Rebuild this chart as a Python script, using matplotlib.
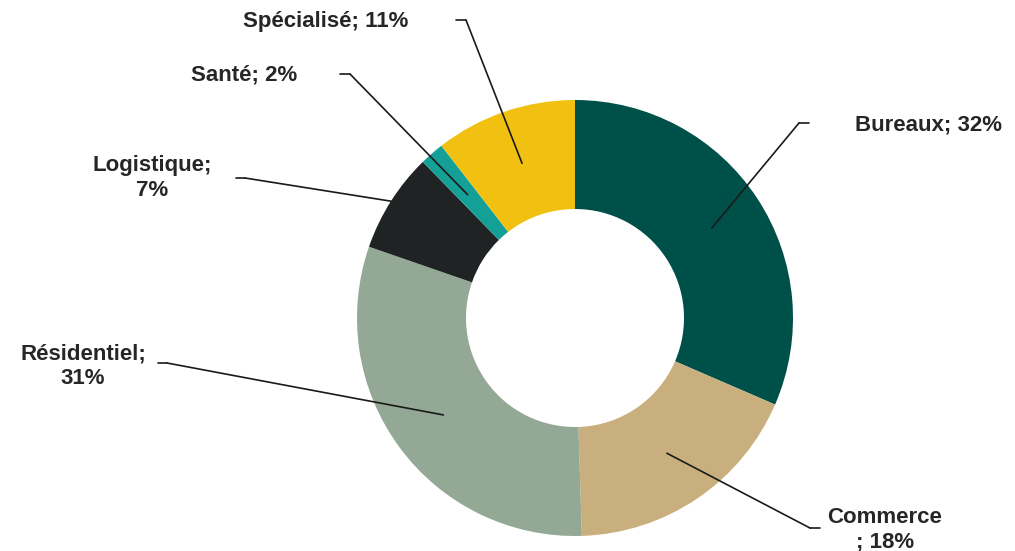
import matplotlib.pyplot as plt
import numpy as np

plt.rcParams['font.family'] = ['Liberation Sans', 'DejaVu Sans']

categories = ['Bureaux', 'Commerce', 'Résidentiel', 'Logistique', 'Santé', 'Spécialisé']
shares = [31.5, 18.0, 30.8, 7.4, 1.8, 10.5]
labels = ['Bureaux; 32%', 'Commerce\n; 18%', 'Résidentiel;\n31%', 'Logistique;\n7%', 'Santé; 2%', 'Spécialisé; 11%']
colors = ['#00504A', '#C9AF7E', '#94A896', '#1F2324', '#14A096', '#F2C010']

# label layout in image pixels (x, y from top): elbow, line end, text centre, alignment
elbows = [(799, 123), (810, 528), (167, 363), (245, 178), (350, 74), (466, 20)]
ends = [(809, 123), (820, 528), (158, 363), (236, 178), (340, 74), (456, 20)]
text_pos = [(855, 125, 'left'), (885, 530, 'center'), (83, 366, 'center'),
            (152, 178, 'center'), (244, 75, 'center'), (326, 22, 'center')]
anchor_r = [0.75, 0.75, 0.75, 1.0, 0.75, 0.75]

W, H = 1015, 551
fig = plt.figure(figsize=(W / 100, H / 100), dpi=100, facecolor='white')
cx, cy, r = 575, 318, 218
ax = fig.add_axes([(cx - r) / W, (H - cy - r) / H, 2 * r / W, 2 * r / H])

wedges, _ = ax.pie(shares, colors=colors, startangle=90, counterclock=False,
                   radius=1, wedgeprops=dict(width=0.5, edgecolor='none'))
ax.set_xlim(-1, 1)
ax.set_ylim(-1, 1)
ax.set_aspect('equal')
ax.axis('off')

for w, el, en, tp, lab, ar in zip(wedges, elbows, ends, text_pos, labels, anchor_r):
    mid = np.deg2rad((w.theta1 + w.theta2) / 2)
    anchor = (ar * np.cos(mid), ar * np.sin(mid))
    ax.annotate('', xy=anchor, xycoords='data',
                xytext=(el[0], H - el[1]), textcoords='figure pixels',
                arrowprops=dict(arrowstyle='-', color='#1a1a1a', lw=1.2,
                                shrinkA=0, shrinkB=0))
    ax.annotate('', xy=(el[0], H - el[1]), xycoords='figure pixels',
                xytext=(en[0], H - en[1]), textcoords='figure pixels',
                arrowprops=dict(arrowstyle='-', color='#1a1a1a', lw=1.2,
                                shrinkA=0, shrinkB=0))
    fig.text(tp[0] / W, (H - tp[1]) / H, lab, ha=tp[2], va='center',
             fontsize=16, fontweight='bold', color='#262626',
             linespacing=1.2)

fig.savefig('out.png', dpi=100, facecolor='white')
